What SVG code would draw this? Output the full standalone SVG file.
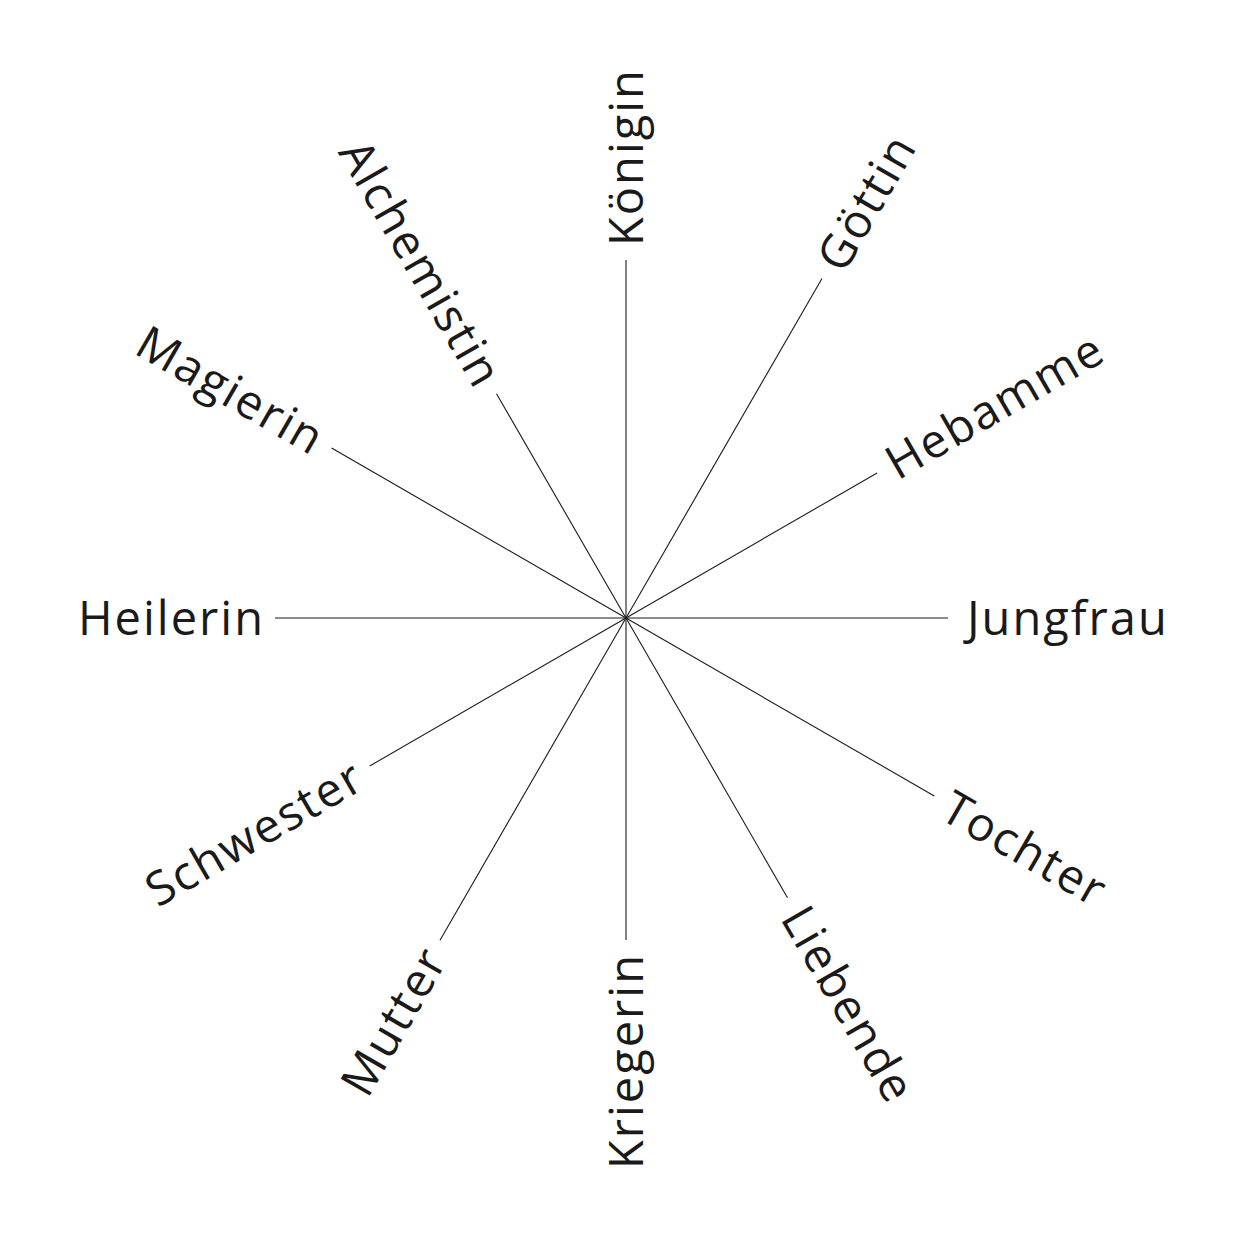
<svg xmlns="http://www.w3.org/2000/svg" width="1250" height="1250" viewBox="0 0 1250 1250">
<style>
.l{stroke:#1a1a1a;stroke-width:1.1;fill:none}
text{font-family:"Open Sans","Noto Sans","DejaVu Sans",sans-serif;font-size:47px;fill:#1a1a1a;letter-spacing:2px}
.e{text-anchor:end}
</style>
<rect width="1250" height="1250" fill="#fff"/>
<g id="connectors">
<line class="l" x1="626" y1="618" x2="948" y2="618"/>
<line class="l" x1="626" y1="618" x2="934.3" y2="796"/>
<line class="l" x1="626" y1="618" x2="787.5" y2="897.7"/>
<line class="l" x1="626" y1="618" x2="626" y2="940"/>
<line class="l" x1="626" y1="618" x2="440" y2="940.2"/>
<line class="l" x1="626" y1="618" x2="369.7" y2="766"/>
<line class="l" x1="626" y1="618" x2="275" y2="618"/>
<line class="l" x1="626" y1="618" x2="331.6" y2="448"/>
<line class="l" x1="626" y1="618" x2="496.5" y2="393.7"/>
<line class="l" x1="626" y1="618" x2="626" y2="260"/>
<line class="l" x1="626" y1="618" x2="822" y2="278.5"/>
<line class="l" x1="626" y1="618" x2="877.1" y2="473"/>
</g>
<g id="jungfrau" transform="translate(967 618)"><text y="17">Jungfrau</text></g>
<g id="tochter" transform="translate(946.4 803) rotate(30)"><text y="17">Tochter</text></g>
<g id="liebende" transform="translate(794.5 909.8) rotate(60)"><text y="17">Liebende</text></g>
<g id="kriegerin" transform="translate(626 953) rotate(-90)"><text class="e" y="17">Kriegerin</text></g>
<g id="mutter" transform="translate(434 950.6) rotate(-60)"><text class="e" y="17">Mutter</text></g>
<g id="schwester" transform="translate(359.3 772) rotate(-30)"><text class="e" y="17">Schwester</text></g>
<g id="heilerin" transform="translate(265 618)"><text class="e" y="17">Heilerin</text></g>
<g id="magierin" transform="translate(321.2 442) rotate(30)"><text class="e" y="17">Magierin</text></g>
<g id="alchemistin" transform="translate(490.5 383.3) rotate(60)"><text class="e" y="17">Alchemistin</text></g>
<g id="koenigin" transform="translate(626 246) rotate(-90)"><text y="17">Königin</text></g>
<g id="goettin" transform="translate(829 266.4) rotate(-60)"><text y="17">Göttin</text></g>
<g id="hebamme" transform="translate(889.3 466) rotate(-30)"><text y="17">Hebamme</text></g>
</svg>
